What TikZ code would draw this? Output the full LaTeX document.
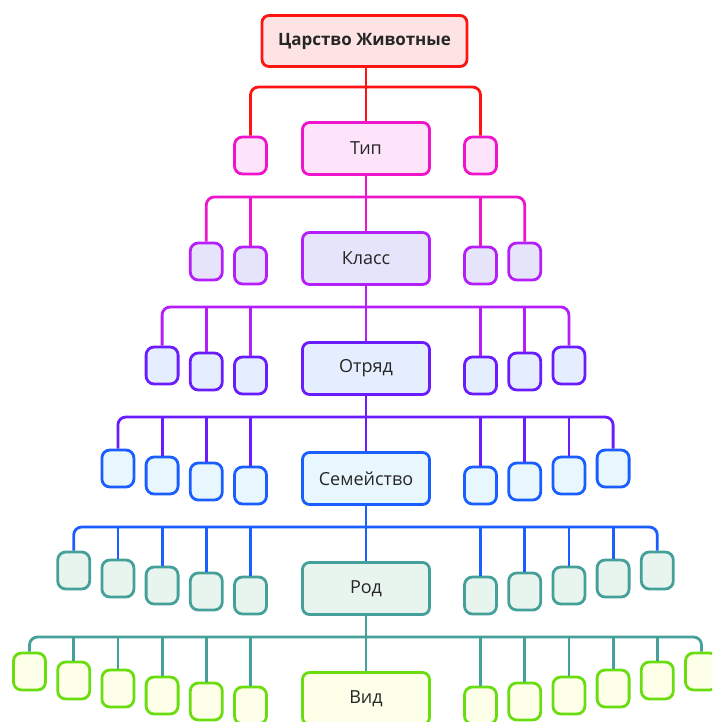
\documentclass[tikz,border=0pt]{standalone}
\usepackage{fontspec}
\setmainfont{Open Sans}
\usepackage{tikz}
\usetikzlibrary{positioning,calc}
\definecolor{c0}{HTML}{FF1414}
\definecolor{c1}{HTML}{EE14CC}
\definecolor{c2}{HTML}{B41EF8}
\definecolor{c3}{HTML}{6A1CFF}
\definecolor{c4}{HTML}{1A5EFF}
\definecolor{c5}{HTML}{45A09A}
\definecolor{c6}{HTML}{6ADD10}
\definecolor{f0}{HTML}{FDE3E3}
\definecolor{f1}{HTML}{FDE4FA}
\definecolor{f2}{HTML}{E6E4FA}
\definecolor{f3}{HTML}{E4EEFF}
\definecolor{f4}{HTML}{E8F7FE}
\definecolor{f5}{HTML}{E8F5EE}
\definecolor{f6}{HTML}{FDFFE8}
\tikzstyle{mainbox}=[draw,rounded corners=7pt,line width=2.8pt,text=black!85,minimum width=127pt,minimum height=52pt,font=\fontsize{18}{21}\selectfont]
\tikzstyle{smallbox}=[draw,rounded corners=8pt,line width=2.8pt,minimum width=32pt,minimum height=37pt]
\tikzstyle{link}=[line width=2.8pt,rounded corners=8pt]

\begin{document}
\begin{tikzpicture}[x=1pt,y=-1pt]
    \clip (0,0) rectangle (712,722);
    \node [mainbox,draw=c0,fill=f0,minimum width=205pt,minimum height=51pt,font=\bfseries\fontsize{17}{20}\selectfont] (m0) at (364.5,41) {Царство Животные};
    \foreach \k/\name in {1/Тип,2/Класс,3/Отряд,4/Семейство,5/Род,6/Вид} {
      \pgfmathtruncatemacro{\km}{\k-1}
      \pgfmathsetmacro{\ym}{148.5+110*(\k-1)}
      \node [mainbox,draw=c\k,fill=f\k] (m\k) at (366,\ym) {\name};
      \foreach \j in {1,...,\k} {
        \pgfmathsetmacro{\dx}{115+44.2*(\j-1)}
        \pgfmathsetmacro{\ys}{\ym+7-{0,4,10,17,25,34}[\j-1]}
        \node [smallbox,draw=c\k,fill=f\k] (l\k\j) at (365.5-\dx,\ys) {};
        \node [smallbox,draw=c\k,fill=f\k] (r\k\j) at (365.5+\dx,\ys) {};
      }
      \coordinate (b\k) at (366,87+110*\km);
      \draw [link,draw=c\km] (m\k.north |- m\km.south) -- (m\k.north);
      \draw [link,draw=c\km] (l\k\k.north) |- (b\k) -| (r\k\k.north);
      \foreach \j in {1,...,\k} {
        \ifnum\j<\k
          \draw [link,draw=c\km] (l\k\j.north) -- (l\k\j.north |- b\k);
          \draw [link,draw=c\km] (r\k\j.north) -- (r\k\j.north |- b\k);
        \fi
      }
    }
  \end{tikzpicture}
\end{document}
